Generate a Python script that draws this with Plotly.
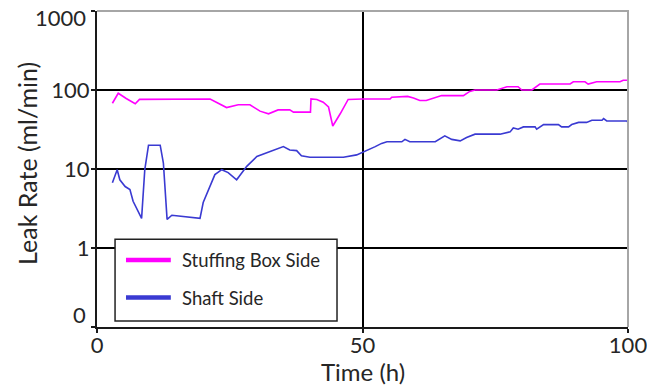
import plotly.graph_objects as go

# Leak rate measurements over time (hours, ml/min)
stuffing_time = [2.9, 4.0, 5.5, 7.2, 8.0, 13.0, 13.2, 21.3, 24.4, 26.6, 28.8, 30.7, 32.3,
                 34.1, 36.3, 37.0, 40.2, 40.3, 41.4, 42.6, 43.6, 44.4, 45.8, 47.3, 50.0,
                 55.2, 55.5, 58.5, 59.6, 60.8, 62.0, 63.3, 64.9, 69.0, 70.2, 71.2, 75.3,
                 77.2, 79.3, 80.0, 81.9, 83.4, 89.1, 89.7, 91.9, 92.5, 94.1, 98.5, 99.1, 100.0]
stuffing_rate = [68, 91, 78, 67, 76, 76, 77, 77, 60, 65, 65, 54, 50,
                 56, 56, 52.5, 52.5, 77, 76, 70, 61, 35, 50, 76, 77,
                 77, 81, 83, 79, 73.5, 73.5, 79, 85, 85, 96, 100, 100,
                 110, 110, 100, 100, 119, 119, 127, 127, 119, 127, 127, 133, 133]

shaft_time = [2.9, 3.8, 4.3, 5.3, 6.2, 6.8, 8.4, 9.0, 9.7, 11.9, 12.5, 13.2, 14.1, 16.9,
              19.4, 20.0, 21.0, 22.2, 23.5, 24.7, 26.3, 28.2, 30.1, 32.6, 35.1, 36.3,
              37.6, 38.5, 40.1, 42.6, 46.4, 48.9, 50.8, 52.4, 53.6, 54.6, 57.4, 58.0,
              58.9, 63.7, 65.5, 66.8, 68.4, 69.6, 71.2, 75.9, 77.8, 78.4, 79.3, 80.3,
              82.5, 82.8, 84.1, 86.9, 87.5, 88.8, 89.4, 90.7, 92.2, 93.2, 95.1, 95.4,
              96.0, 99.8, 100.0]
shaft_rate = [6.7, 9.8, 7.3, 6.0, 5.5, 3.9, 2.37, 9.8, 20, 20, 11.9, 2.3, 2.6, 2.5,
              2.37, 3.76, 5.5, 8.5, 9.8, 9.0, 7.3, 10.8, 14.4, 16.6, 19.2, 17.4,
              17.1, 14.7, 14.1, 14.1, 14.1, 15.1, 17.1, 19.2, 21.1, 22.1, 22.1, 23.7,
              22.1, 22.1, 26.3, 23.7, 22.7, 25.1, 27.6, 27.6, 29.5, 33.1, 31.9, 34.1,
              34.1, 31.9, 36.5, 36.5, 34.1, 34.1, 36.5, 38.9, 38.9, 41.4, 41.4, 43.4,
              40.5, 40.5, 38.9]

series_names = ["Stuffing Box Side", "Shaft Side"]
series_colors = ["#ff00ff", "#3a3ad2"]

x_ticks = [0, 50, 100]
y_ticks = [0.1, 1, 10, 100, 999.9]
y_tick_text = ["", "1", "10", "100", ""]

FONT = "Lato, 'Open Sans', sans-serif"
TEXT = "#262626"

fig = go.Figure()
fig.add_trace(go.Scatter(x=stuffing_time, y=stuffing_rate, mode="lines",
                         name=series_names[0], showlegend=False,
                         line=dict(color=series_colors[0], width=1.6)))
fig.add_trace(go.Scatter(x=shaft_time, y=shaft_rate, mode="lines",
                         name=series_names[1], showlegend=False,
                         line=dict(color=series_colors[1], width=1.6)))

# Boxed legend drawn in paper coordinates
shapes = [
    dict(type="rect", xref="paper", yref="paper", x0=0.034, x1=0.452, y0=0.019, y1=0.278,
         line=dict(color="#222222", width=1.5), fillcolor="white", layer="above"),
    # grey frame on top and right
    dict(type="path", xref="paper", yref="paper", path="M 0,1 L 1,1 L 1,0",
         line=dict(color="#a6a6a6", width=2), layer="above"),
]
legend_y = [0.212, 0.093]
annotations = []
for name, color, ly in zip(series_names, series_colors, legend_y):
    shapes.append(dict(type="line", xref="paper", yref="paper", x0=0.0546, x1=0.139,
                       y0=ly, y1=ly, line=dict(color=color, width=4.5), layer="above"))
    annotations.append(dict(xref="paper", yref="paper", x=0.157, y=ly, text=name,
                            showarrow=False, xanchor="left", yanchor="middle",
                            font=dict(family=FONT, size=18.5, color=TEXT)))

# end labels of the log axis, nudged inside the frame
annotations.append(dict(xref="paper", yref="paper", x=-0.017, y=0.038, text="0",
                        showarrow=False, xanchor="right", yanchor="middle",
                        font=dict(family=FONT, size=22, color=TEXT)))
annotations.append(dict(xref="paper", yref="paper", x=-0.017, y=0.978, text="1000",
                        showarrow=False, xanchor="right", yanchor="middle",
                        font=dict(family=FONT, size=22, color=TEXT)))

# axis titles
annotations.append(dict(xref="paper", yref="paper", x=0.5, y=-0.141, text="Time (h)",
                        showarrow=False, xanchor="center", yanchor="middle",
                        font=dict(family=FONT, size=24, color=TEXT)))
annotations.append(dict(xref="paper", yref="paper", x=-0.132, y=0.519,
                        text="Leak Rate (ml/min)", textangle=-90,
                        showarrow=False, xanchor="center", yanchor="middle",
                        font=dict(family=FONT, size=25, color=TEXT)))

fig.update_layout(
    width=647, height=388,
    margin=dict(l=97, r=19, t=11, b=61),
    paper_bgcolor="white", plot_bgcolor="white",
    shapes=shapes, annotations=annotations,
    font=dict(family=FONT, color=TEXT),
)
fig.update_xaxes(
    range=[0, 100], tickvals=x_ticks, ticktext=[str(v) for v in x_ticks],
    showgrid=True, gridcolor="#000000", gridwidth=1.5,
    showline=True, linecolor="#1a1a1a", linewidth=2,
    ticks="outside", ticklen=4, tickcolor="#1a1a1a", tickwidth=1.5,
    tickfont=dict(family=FONT, size=22, color=TEXT),
    ticklabeloverflow="allow", ticklabelstandoff=-6,
    zeroline=False, automargin=False,
)
fig.update_yaxes(
    type="log", range=[-1, 3], tickvals=y_ticks, ticktext=y_tick_text,
    showgrid=True, gridcolor="#000000", gridwidth=1.5,
    showline=True, linecolor="#1a1a1a", linewidth=2,
    ticks="outside", ticklen=4, tickcolor="#1a1a1a", tickwidth=1.5,
    tickfont=dict(family=FONT, size=22, color=TEXT),
    ticklabeloverflow="allow", ticklabelstandoff=-3,
    zeroline=False, automargin=False,
)

fig.write_html("out.html")
